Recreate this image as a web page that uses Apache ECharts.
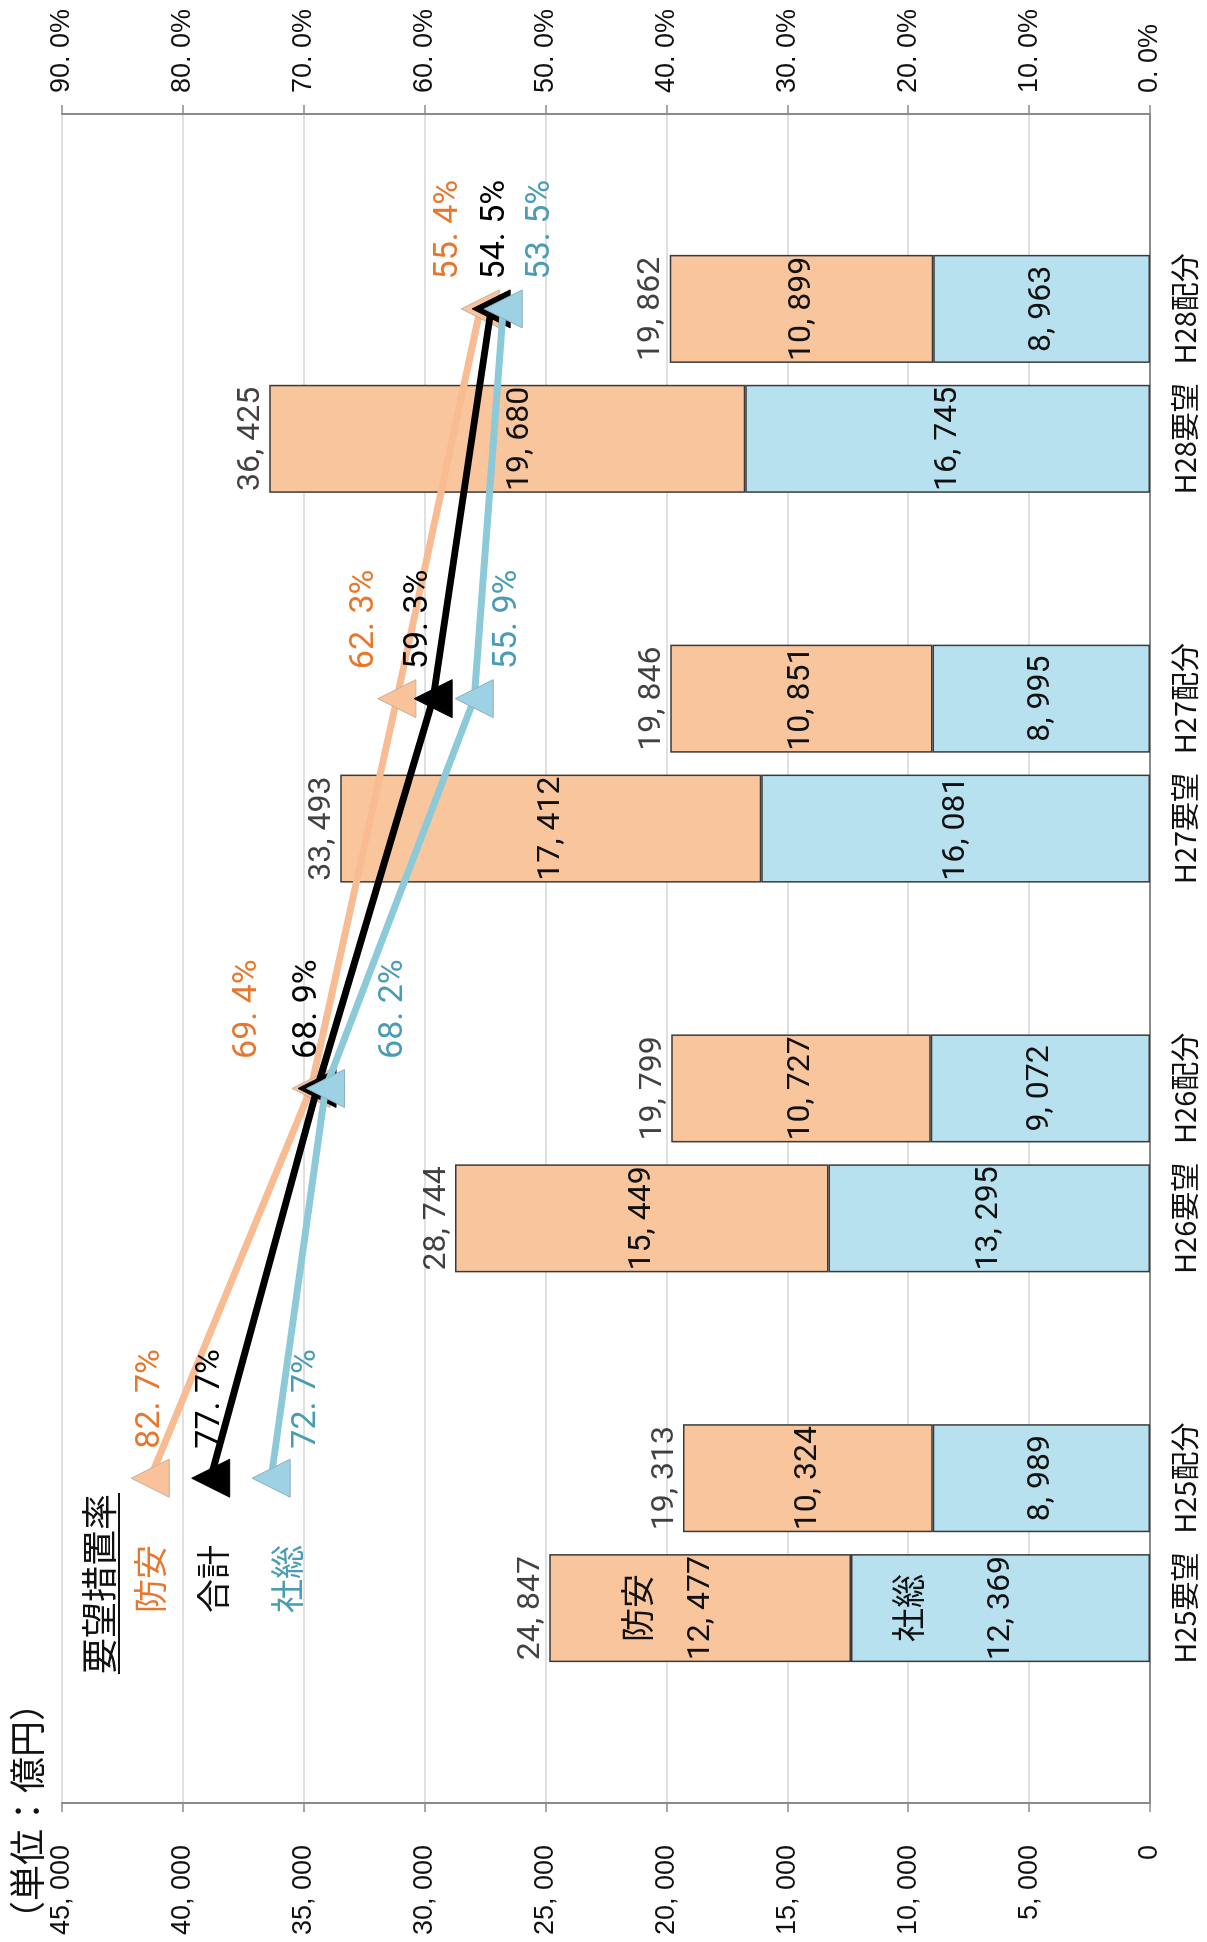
<!DOCTYPE html>
<html><head><meta charset="utf-8">
<script src="https://cdn.jsdelivr.net/npm/echarts/dist/echarts.min.js"></script>
<style>
html,body{margin:0;padding:0;width:1207px;height:1942px;overflow:hidden;background:#fff;}
#wrap{position:absolute;left:0;top:0;width:1942px;height:1207px;transform-origin:0 0;transform:translate(0,1942px) rotate(-90deg);}
#chart{width:1942px;height:1207px;background:#fff;}
</style></head><body><div id="wrap"><div id="chart"></div></div>
<script>
// ---- data ----
const categories = ['H25要望','H25配分','H26要望','H26配分','H27要望','H27配分','H28要望','H28配分'];
const shasou = [12369, 8989, 13295, 9072, 16081, 8995, 16745, 8963];     // 社総
const bouan  = [12477, 10324, 15449, 10727, 17412, 10851, 19680, 10899]; // 防安
const totals = [24847, 19313, 28744, 19799, 33493, 19846, 36425, 19862];
const rateCategories = ['H25配分','H26配分','H27配分','H28配分'];
const rateBouan  = [82.7, 69.4, 62.3, 55.4];
const rateTotal  = [77.7, 68.9, 59.3, 54.5];
const rateShasou = [72.7, 68.2, 55.9, 53.5];
const valueAxisMax = 45000, valueAxisStep = 5000;
const pctAxisMax = 90, pctAxisStep = 10;

// ---- layout / style ----
const rateLabelDY = { bouan:[0,-64,-32,-32], total:[0,-10,-15,4], shasou:[35,68,33,37] };
const barLabelDY = { bouan:{'H25要望':-31,'H28要望':13}, shasou:{'H25要望':-46} };

function hasFont(name){
  const c=document.createElement('canvas').getContext('2d');
  c.font='40px monospace'; const w1=c.measureText('0123456789,%').width;
  c.font='40px "'+name+'", monospace'; const w2=c.measureText('0123456789,%').width;
  return Math.abs(w1-w2)>0.5;
}
const NARROW = hasFont('Liberation Sans Narrow');
const numFont = NARROW ? 'Liberation Sans Narrow' : 'Roboto';
const numSize = NARROW ? 38 : 32;
const pctSize = NARROW ? 38 : 34;
const axisFont = 'Liberation Sans';
const jpFont = 'Noto Sans CJK JP';

// slots: blank, 要望, 配分, blank, ...
const slots = ['_s0'];
for (let i=0;i<categories.length;i+=2){ slots.push(categories[i], categories[i+1]); slots.push('_s'+(i+2)); }
const slotIndex = {}; slots.forEach((s,i)=>slotIndex[s]=i);
function toSlots(cats, vals, mk){ const a=slots.map(()=>null); cats.forEach((c,i)=>{a[slotIndex[c]] = mk? mk(vals[i],i): vals[i];}); return a; }

const fmtNum = v => Math.round(v).toString().replace(/\B(?=(\d{3})+(?!\d))/g, ', ');
const fmtPct = v => v.toFixed(1).replace('.', '. ') + '%';

const ORANGE_FILL='#F9C59C', BLUE_FILL='#B8E1EF', BORDER='#3a3a3a';
const ORANGE_LINE='#F9BB92', BLUE_LINE='#8CCAD9';
const ORANGE_TXT='#E8772E', BLUE_TXT='#4A9CB5';

function barLabel(lh){
  return {
    show:true, position:'inside', color:'#111', fontFamily:numFont, fontSize:numSize,
    formatter: p => p.name==='H25要望' ? '{a|'+p.seriesName+'}\n{b|'+fmtNum(p.value)+'}' : fmtNum(p.value),
    rich:{ a:{fontFamily:jpFont,fontSize:34,lineHeight:lh,color:'#111'}, b:{fontFamily:numFont,fontSize:numSize,lineHeight:lh,color:'#111'} }
  };
}
function withOffsets(arr, offs){
  return arr.map((v,i)=> (v!==null && offs[slots[i]]!==undefined) ? {value:v, label:{offset:[0,offs[slots[i]]]}} : v);
}
function lineSeries(name, vals, dys, lineColor, fill, border, txt, z){
  return {
    type:'line', name, yAxisIndex:1, z, connectNulls:true,
    data: toSlots(rateCategories, vals, (v,i)=>({value:v, label:{offset:[0,dys[i]]}})),
    symbol:'triangle', symbolSize:38,
    lineStyle:{color:lineColor, width:7},
    itemStyle:{color:fill, borderColor:border, borderWidth:1},
    label:{show:true, position:'right', distance:10, color:txt, fontFamily:numFont, fontSize:pctSize, formatter:p=>fmtPct(p.value)},
    emphasis:{disabled:true}, animation:false
  };
}

const chart = echarts.init(document.getElementById('chart'), null, {renderer:'canvas'});
chart.setOption({
  animation:false,
  backgroundColor:'#fff',
  grid:{left:139, right:114, top:62, bottom:57, containLabel:false, outerBoundsMode:'none'},
  xAxis:{
    type:'category', data:slots, boundaryGap:true,
    axisLine:{show:true, lineStyle:{color:'#8a8a8a', width:2}},
    axisTick:{show:false},
    axisLabel:{interval:0, margin:20, color:'#111', fontFamily:jpFont, fontSize:29, formatter:v=> v.startsWith('_')?'':v},
    splitLine:{show:false}
  },
  yAxis:[
    { type:'value', min:0, max:valueAxisMax, interval:valueAxisStep, position:'left',
      axisLine:{show:true, lineStyle:{color:'#8a8a8a', width:2}},
      axisTick:{show:true, length:9, lineStyle:{color:'#8a8a8a', width:1.5}},
      axisLabel:{margin:42, color:'#111', fontFamily:axisFont, fontSize:27, formatter:v=>fmtNum(v)},
      splitLine:{show:true, lineStyle:{color:'#d6d6d6', width:1.5}} },
    { type:'value', min:0, max:pctAxisMax, interval:pctAxisStep, position:'right',
      axisLine:{show:true, lineStyle:{color:'#8a8a8a', width:2}},
      axisTick:{show:true, length:9, lineStyle:{color:'#8a8a8a', width:1.5}},
      axisLabel:{margin:21, color:'#111', fontFamily:axisFont, fontSize:27, formatter:v=>fmtPct(v)},
      splitLine:{show:false} }
  ],
  series:[
    { type:'bar', name:'社総', stack:'s', barWidth:108, z:2,
      data: withOffsets(toSlots(categories, shasou), barLabelDY.shasou),
      itemStyle:{color:BLUE_FILL, borderColor:BORDER, borderWidth:1.5},
      label: barLabel(93), emphasis:{disabled:true} },
    { type:'bar', name:'防安', stack:'s', barWidth:108, z:2,
      data: withOffsets(toSlots(categories, bouan), barLabelDY.bouan),
      itemStyle:{color:ORANGE_FILL, borderColor:BORDER, borderWidth:1.5},
      label: barLabel(64), emphasis:{disabled:true} },
    { type:'scatter', name:'合計値', z:2, symbolSize:1,
      data: toSlots(categories, totals),
      itemStyle:{color:'rgba(0,0,0,0)'},
      label:{show:true, position:'top', distance:2, color:'#111', fontFamily:numFont, fontSize:numSize, formatter:p=>fmtNum(p.value)},
      emphasis:{disabled:true} },
    lineSeries('防安率', rateBouan, rateLabelDY.bouan, ORANGE_LINE, '#F9C29B', '#C9AE98', ORANGE_TXT, 4),
    lineSeries('合計率', rateTotal, rateLabelDY.total, '#000', '#000', '#000', '#000', 5),
    lineSeries('社総率', rateShasou, rateLabelDY.shasou, BLUE_LINE, '#9CD2E3', '#8FAFBE', BLUE_TXT, 6)
  ],
  graphic:[
    {type:'text', x:5, y:27, style:{text:'（単位：億円）', font:'36px "Noto Sans CJK JP"', fill:'#111', textVerticalAlign:'middle', verticalAlign:'middle'}},
    {type:'text', x:358, y:99, style:{text:'要望措置率', font:'36px "Noto Sans CJK JP"', fill:'#111', textAlign:'center', align:'center', textVerticalAlign:'middle', verticalAlign:'middle'}},
    {type:'line', shape:{x1:268, y1:119, x2:449, y2:119}, style:{stroke:'#111', lineWidth:2}},
    {type:'text', x:363, y:150, style:{text:'防安', font:'34px "Noto Sans CJK JP"', fill:ORANGE_TXT, textAlign:'center', align:'center', textVerticalAlign:'middle', verticalAlign:'middle'}},
    {type:'text', x:363, y:213, style:{text:'合計', font:'34px "Noto Sans CJK JP"', fill:'#111', textAlign:'center', align:'center', textVerticalAlign:'middle', verticalAlign:'middle'}},
    {type:'text', x:363, y:287, style:{text:'社総', font:'34px "Noto Sans CJK JP"', fill:BLUE_TXT, textAlign:'center', align:'center', textVerticalAlign:'middle', verticalAlign:'middle'}}
  ]
});
</script></body></html>
